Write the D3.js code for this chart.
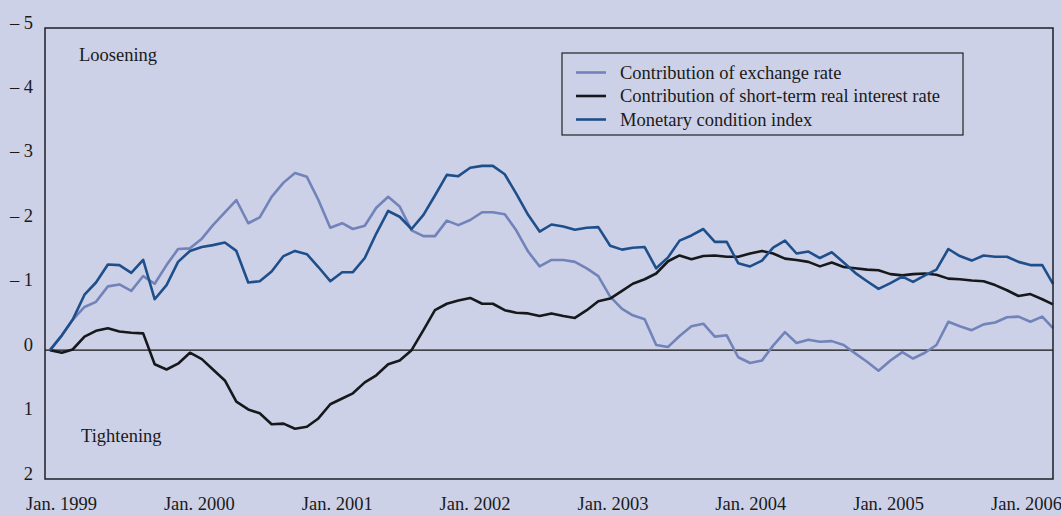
<html>
<head>
<meta charset="utf-8">
<script src="https://d3js.org/d3.v7.min.js"></script>
<style>
body { margin:0; background:#ccd1e7; }
text { font-family:"Liberation Serif","Times New Roman",serif; font-size:18.5px; fill:#1a1a1a; }
</style>
</head>
<body>
<div id="chart"></div>
<script>
var width = 1061, height = 516;

// monthly observations, Jan 1999 - Mar 2006
var months = d3.timeMonth.range(new Date(1999, 0, 1), new Date(2006, 3, 1));

var exchangeRate = [0, -0.23, -0.47, -0.67, -0.75, -0.99, -1.02, -0.92, -1.15, -1.03, -1.32, -1.57,
  -1.58, -1.73, -1.94, -2.14, -2.33, -1.97, -2.06, -2.38, -2.60, -2.75, -2.69, -2.33,
  -1.90, -1.97, -1.88, -1.93, -2.21, -2.38, -2.23, -1.86, -1.77, -1.77, -2.01, -1.94,
  -2.02, -2.14, -2.14, -2.11, -1.86, -1.53, -1.30, -1.40, -1.40, -1.37, -1.27, -1.15,
  -0.83, -0.64, -0.54, -0.48, -0.08, -0.05, -0.22, -0.37, -0.41, -0.21, -0.23, 0.11,
  0.20, 0.16, -0.07, -0.28, -0.11, -0.16, -0.13, -0.14, -0.08, 0.05, 0.18, 0.32,
  0.16, 0.03, 0.13, 0.04, -0.08, -0.44, -0.37, -0.31, -0.40, -0.43, -0.51, -0.52,
  -0.44, -0.52, -0.34];

var interestRate = [0, 0.04, -0.01, -0.21, -0.30, -0.34, -0.29, -0.27, -0.26, 0.22, 0.30, 0.21,
  0.04, 0.14, 0.30, 0.47, 0.80, 0.92, 0.98, 1.15, 1.14, 1.22, 1.19, 1.06,
  0.84, 0.75, 0.67, 0.50, 0.39, 0.22, 0.16, 0.0, -0.31, -0.62, -0.72, -0.77,
  -0.81, -0.72, -0.72, -0.62, -0.58, -0.57, -0.53, -0.57, -0.53, -0.50, -0.62, -0.76,
  -0.80, -0.92, -1.03, -1.10, -1.19, -1.38, -1.47, -1.41, -1.46, -1.47, -1.45, -1.45,
  -1.50, -1.54, -1.50, -1.42, -1.40, -1.37, -1.30, -1.36, -1.29, -1.27, -1.25, -1.24,
  -1.18, -1.16, -1.18, -1.19, -1.17, -1.11, -1.10, -1.08, -1.07, -1.01, -0.93, -0.84,
  -0.87, -0.79, -0.71];

var mci = [0, -0.23, -0.47, -0.86, -1.05, -1.33, -1.32, -1.20, -1.40, -0.79, -1.01, -1.37,
  -1.54, -1.60, -1.63, -1.67, -1.54, -1.05, -1.07, -1.22, -1.46, -1.54, -1.49, -1.29,
  -1.07, -1.21, -1.21, -1.43, -1.81, -2.16, -2.07, -1.88, -2.10, -2.40, -2.72, -2.70,
  -2.83, -2.86, -2.86, -2.73, -2.43, -2.10, -1.84, -1.95, -1.92, -1.87, -1.90, -1.91,
  -1.62, -1.56, -1.59, -1.60, -1.27, -1.44, -1.70, -1.78, -1.88, -1.68, -1.68, -1.35,
  -1.30, -1.39, -1.59, -1.70, -1.50, -1.53, -1.43, -1.52, -1.36, -1.20, -1.07, -0.95,
  -1.04, -1.14, -1.06, -1.16, -1.25, -1.57, -1.46, -1.39, -1.47, -1.45, -1.45, -1.37,
  -1.32, -1.32, -1.03];

var yTicks = [-5, -4, -3, -2, -1, 0, 1, 2];
var xLabels = ["Jan. 1999", "Jan. 2000", "Jan. 2001", "Jan. 2002", "Jan. 2003", "Jan. 2004", "Jan. 2005", "Jan. 2006"];

var series = [
  {name: "Contribution of exchange rate", values: exchangeRate, color: "#7283b9"},
  {name: "Contribution of short-term real interest rate", values: interestRate, color: "#17181c"},
  {name: "Monetary condition index", values: mci, color: "#1f4f8b"}
];

var plot = {left: 45, right: 1053, top: 28, bottom: 479};

var x = d3.scaleTime()
  .domain([months[0], months[months.length - 1]])
  .range([50, plot.right]);
var y = d3.scaleLinear().domain([-5, 2]).range([plot.top, plot.bottom]);
var xl = d3.scalePoint().domain(xLabels).range([61, 1026]);

var svg = d3.select("#chart").append("svg")
  .attr("width", width)
  .attr("height", height);

svg.append("rect")
  .attr("width", width).attr("height", height)
  .attr("fill", "#ccd1e7");

// y axis labels
var yAxis = svg.append("g")
  .attr("transform", "translate(33,0)")
  .call(d3.axisLeft(y).tickValues(yTicks).tickSize(0).tickPadding(0)
    .tickFormat(function(d) { return d < 0 ? "\u2013 " + Math.abs(d) : d; }));
yAxis.select(".domain").remove();
yAxis.selectAll("text").attr("dy", "0").attr("font-size", null).attr("font-family", null);

// x axis labels
var xAxis = svg.append("g")
  .attr("transform", "translate(0,494)")
  .call(d3.axisBottom(xl).tickSize(0).tickPadding(0));
xAxis.select(".domain").remove();
xAxis.selectAll("text").attr("dy", "0").attr("y", 16).attr("font-size", null).attr("font-family", null);

// zero line
svg.append("line")
  .attr("x1", plot.left).attr("x2", plot.right)
  .attr("y1", y(0)).attr("y2", y(0))
  .attr("stroke", "#111").attr("stroke-width", 1.2);

var line = d3.line()
  .x(function(d, i) { return x(months[i]); })
  .y(function(d) { return y(d); });

svg.selectAll(".series").data(series).enter().append("path")
  .attr("class", "series")
  .attr("d", function(s) { return line(s.values); })
  .attr("fill", "none")
  .attr("stroke", function(s) { return s.color; })
  .attr("stroke-width", 2.6)
  .attr("stroke-linejoin", "round");

// frame
svg.append("rect")
  .attr("x", plot.left).attr("y", plot.top)
  .attr("width", plot.right - plot.left).attr("height", plot.bottom - plot.top)
  .attr("fill", "none").attr("stroke", "#1e1f26").attr("stroke-width", 1.5);

svg.append("text").attr("x", 79).attr("y", 61).text("Loosening");
svg.append("text").attr("x", 81).attr("y", 442).text("Tightening");

// legend
var legend = svg.append("g");
legend.append("rect")
  .attr("x", 562).attr("y", 53)
  .attr("width", 401).attr("height", 82)
  .attr("fill", "none").attr("stroke", "#222").attr("stroke-width", 1.2);

var items = legend.selectAll(".item").data(series).enter().append("g")
  .attr("class", "item")
  .attr("transform", function(d, i) { return "translate(0," + (72.5 + i * 23.5) + ")"; });
items.append("line")
  .attr("x1", 576).attr("x2", 606)
  .attr("stroke", function(d) { return d.color; })
  .attr("stroke-width", 2.6);
items.append("text")
  .attr("x", 620).attr("y", 6)
  .text(function(d) { return d.name; });
</script>
</body>
</html>
